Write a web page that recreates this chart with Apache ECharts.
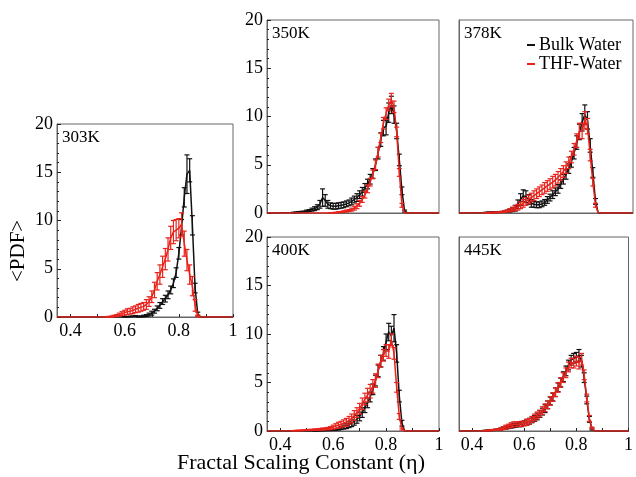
<!DOCTYPE html>
<html>
<head>
<meta charset="utf-8">
<script src="https://cdn.jsdelivr.net/npm/echarts@6/dist/echarts.min.js"></script>
<style>
  html, body { margin: 0; padding: 0; background: #fff; }
  #chart { width: 636px; height: 477px; }
</style>
</head>
<body>
<div id="chart"></div>
<script>
// fractal scaling constant bins (eta)
const eta = [0.35,
  0.45, 0.46, 0.47, 0.48, 0.49, 0.50, 0.51, 0.52, 0.53, 0.54,
  0.55, 0.56, 0.57, 0.58, 0.59, 0.60, 0.61, 0.62, 0.63, 0.64,
  0.65, 0.66, 0.67, 0.68, 0.69, 0.70, 0.71, 0.72, 0.73, 0.74,
  0.75, 0.76, 0.77, 0.78, 0.79, 0.80, 0.81, 0.82, 0.83, 0.84,
  0.85, 0.86, 0.87, 0.88,
  1.0];

const temps = ['303K', '350K', '378K', '400K', '445K'];
const seriesNames = ['Bulk Water', 'THF-Water'];
const xTickLabels = [0.4, 0.6, 0.8, 1];
const xTicks = [0.4, 0.5, 0.6, 0.7, 0.8, 0.9, 1];

// 303K
const bulk303 = [0,
  0, 0, 0, 0, 0, 0, 0, 0, 0, 0,
  0, 0, 0, 0, 0, 0.02, 0.03, 0.05, 0.07, 0.1,
  0.04, 0.06, 0.1, 0.15, 0.25, 0.4, 0.6, 0.9, 1.2, 1.6,
  1.9, 2.3, 2.8, 3.5, 4.6, 6.6, 9.3, 12.4, 14.8, 15.2,
  9.5, 3.0, 0.3, 0,
  0];
const bulk303Err = [0,
  0, 0, 0, 0, 0, 0, 0, 0, 0, 0,
  0, 0, 0, 0, 0, 0.02, 0.02, 0.03, 0.03, 0.05,
  0.05, 0.05, 0.08, 0.1, 0.15, 0.2, 0.2, 0.25, 0.3, 0.3,
  0.35, 0.4, 0.4, 0.45, 0.5, 0.6, 0.8, 1.0, 2.0, 1.2,
  1.0, 0.5, 0.2, 0,
  0];
const thf303 = [0,
  0, 0, 0, 0, 0, 0, 0, 0, 0.02, 0.03,
  0.05, 0.1, 0.15, 0.25, 0.35, 0.45, 0.55, 0.6, 0.7, 0.8,
  0.9, 1.0, 1.1, 1.3, 1.6, 2.1, 2.8, 3.7, 4.4, 5.2,
  6.0, 7.0, 8.2, 8.8, 9.0, 9.2, 9.6, 7.6, 5.9, 4.4,
  3.2, 1.2, 0.1, 0,
  0];
const thf303Err = [0,
  0, 0, 0, 0, 0, 0, 0, 0, 0.02, 0.03,
  0.05, 0.08, 0.1, 0.15, 0.2, 0.25, 0.3, 0.3, 0.35, 0.35,
  0.4, 0.4, 0.4, 0.5, 0.5, 0.6, 0.8, 0.9, 1.0, 1.1,
  1.1, 1.2, 1.2, 1.2, 1.1, 1.0, 1.2, 1.3, 1.1, 1.0,
  1.0, 0.6, 0.1, 0,
  0];

// 350K
const bulk350 = [0,
  0.05, 0.07, 0.1, 0.12, 0.15, 0.2, 0.25, 0.35, 0.45, 0.6,
  0.9, 1.6, 1.3, 0.9, 0.75, 0.7, 0.7, 0.75, 0.8, 0.85,
  0.95, 1.05, 1.2, 1.4, 1.6, 1.9, 2.2, 2.6, 3.0, 3.5,
  4.1, 5.0, 6.2, 7.6, 8.8, 9.0, 10.4, 11.2, 10.2, 8.5,
  5.5, 2.3, 0.2, 0,
  0];
const bulk350Err = [0,
  0.03, 0.03, 0.05, 0.05, 0.05, 0.1, 0.1, 0.15, 0.2, 0.25,
  0.4, 0.9, 0.6, 0.4, 0.3, 0.3, 0.3, 0.3, 0.3, 0.3,
  0.3, 0.3, 0.35, 0.35, 0.4, 0.4, 0.45, 0.45, 0.5, 0.5,
  0.5, 0.6, 0.6, 0.7, 0.8, 0.9, 1.0, 0.9, 0.9, 0.8,
  0.6, 0.4, 0.1, 0,
  0];
const thf350 = [0,
  0, 0, 0, 0, 0, 0, 0, 0, 0, 0,
  0, 0, 0, 0, 0.02, 0.03, 0.05, 0.08, 0.1, 0.15,
  0.2, 0.25, 0.35, 0.5, 0.7, 1.0, 1.4, 1.9, 2.5, 3.2,
  4.0, 5.0, 6.3, 7.8, 9.3, 10.3, 11.2, 11.7, 11.0, 8.4,
  4.2, 0.8, 0, 0,
  0];
const thf350Err = [0,
  0, 0, 0, 0, 0, 0, 0, 0, 0, 0,
  0, 0, 0, 0, 0.02, 0.02, 0.03, 0.04, 0.05, 0.08,
  0.1, 0.1, 0.15, 0.2, 0.25, 0.3, 0.3, 0.35, 0.4, 0.4,
  0.45, 0.5, 0.5, 0.5, 0.6, 0.6, 0.6, 0.7, 0.6, 0.5,
  0.4, 0.2, 0, 0,
  0];

// 378K
const bulk378 = [0,
  0.05, 0.06, 0.07, 0.08, 0.09, 0.1, 0.12, 0.15, 0.2, 0.25,
  0.35, 0.5, 0.9, 1.4, 1.8, 1.7, 1.4, 1.0, 0.9, 0.85,
  0.85, 0.95, 1.1, 1.35, 1.6, 1.9, 2.2, 2.5, 3.0, 3.5,
  4.0, 4.6, 5.3, 6.2, 7.3, 8.4, 9.4, 10.2, 9.6, 7.0,
  4.2, 1.2, 0, 0,
  0];
const bulk378Err = [0,
  0.03, 0.03, 0.03, 0.04, 0.04, 0.05, 0.05, 0.08, 0.1, 0.15,
  0.2, 0.3, 0.45, 0.6, 0.6, 0.6, 0.5, 0.4, 0.3, 0.3,
  0.3, 0.3, 0.3, 0.35, 0.35, 0.4, 0.4, 0.45, 0.45, 0.5,
  0.5, 0.5, 0.55, 0.6, 0.7, 0.8, 0.9, 1.0, 0.9, 0.7,
  0.5, 0.3, 0, 0,
  0];
const thf378 = [0,
  0.02, 0.03, 0.04, 0.05, 0.06, 0.08, 0.1, 0.15, 0.2, 0.3,
  0.4, 0.5, 0.6, 0.8, 1.0, 1.2, 1.4, 1.6, 1.8, 2.0,
  2.2, 2.4, 2.6, 2.8, 3.0, 3.2, 3.4, 3.7, 4.0, 4.3,
  4.7, 5.2, 5.8, 6.6, 7.5, 8.5, 8.5, 9.6, 9.0, 6.0,
  3.2, 0.8, 0, 0,
  0];
const thf378Err = [0,
  0.01, 0.02, 0.02, 0.03, 0.03, 0.04, 0.05, 0.08, 0.1, 0.15,
  0.2, 0.25, 0.3, 0.35, 0.4, 0.4, 0.45, 0.45, 0.5, 0.5,
  0.5, 0.5, 0.55, 0.55, 0.55, 0.6, 0.6, 0.6, 0.6, 0.6,
  0.6, 0.6, 0.6, 0.6, 0.7, 0.8, 0.8, 0.9, 0.8, 0.6,
  0.4, 0.2, 0, 0,
  0];

// 400K
const bulk400 = [0,
  0, 0, 0, 0, 0, 0, 0, 0, 0.02, 0.03,
  0.05, 0.06, 0.07, 0.08, 0.1, 0.12, 0.15, 0.2, 0.3, 0.4,
  0.5, 0.65, 0.8, 1.0, 1.2, 1.5, 1.9, 2.4, 2.9, 3.5,
  4.3, 5.2, 6.2, 7.2, 8.0, 9.2, 10.2, 9.8, 10.6, 8.0,
  3.6, 0.8, 0, 0,
  0];
const bulk400Err = [0,
  0, 0, 0, 0, 0, 0, 0, 0, 0.01, 0.02,
  0.03, 0.03, 0.04, 0.04, 0.05, 0.06, 0.08, 0.1, 0.15, 0.2,
  0.25, 0.3, 0.35, 0.4, 0.4, 0.45, 0.5, 0.5, 0.5, 0.5,
  0.55, 0.55, 0.6, 0.6, 0.7, 0.8, 0.9, 1.0, 1.4, 0.9,
  0.6, 0.3, 0, 0,
  0];
const thf400 = [0,
  0.03, 0.04, 0.05, 0.06, 0.08, 0.1, 0.11, 0.12, 0.14, 0.15,
  0.17, 0.2, 0.22, 0.25, 0.3, 0.4, 0.5, 0.6, 0.7, 0.8,
  0.9, 1.1, 1.3, 1.6, 1.9, 2.3, 2.8, 3.3, 3.7, 4.1,
  4.6, 5.2, 6.2, 7.2, 7.8, 8.3, 8.2, 9.4, 8.0, 4.5,
  1.5, 0.2, 0, 0,
  0];
const thf400Err = [0,
  0.02, 0.02, 0.03, 0.03, 0.04, 0.05, 0.05, 0.06, 0.07, 0.08,
  0.09, 0.1, 0.1, 0.12, 0.15, 0.2, 0.25, 0.3, 0.3, 0.35,
  0.4, 0.4, 0.45, 0.5, 0.5, 0.55, 0.6, 0.6, 0.7, 0.7,
  0.7, 0.7, 0.7, 0.6, 0.6, 0.6, 0.7, 0.6, 0.6, 0.5,
  0.3, 0.1, 0, 0,
  0];

// 445K
const bulk445 = [0,
  0.05, 0.06, 0.08, 0.1, 0.12, 0.16, 0.2, 0.3, 0.35, 0.4,
  0.5, 0.55, 0.6, 0.65, 0.7, 0.8, 0.9, 1.0, 1.15, 1.3,
  1.5, 1.75, 2.0, 2.3, 2.7, 3.1, 3.5, 4.0, 4.5, 5.0,
  5.6, 6.2, 6.8, 7.3, 7.5, 7.6, 7.8, 7.2, 5.5, 3.2,
  1.2, 0.2, 0, 0,
  0];
const bulk445Err = [0,
  0.03, 0.03, 0.04, 0.05, 0.06, 0.08, 0.1, 0.12, 0.15, 0.15,
  0.2, 0.2, 0.2, 0.2, 0.25, 0.25, 0.3, 0.3, 0.3, 0.3,
  0.35, 0.35, 0.35, 0.4, 0.4, 0.4, 0.4, 0.45, 0.45, 0.45,
  0.5, 0.5, 0.5, 0.5, 0.5, 0.5, 0.6, 0.6, 0.5, 0.4,
  0.3, 0.1, 0, 0,
  0];
const thf445 = [0,
  0.03, 0.05, 0.07, 0.1, 0.12, 0.15, 0.2, 0.3, 0.4, 0.5,
  0.6, 0.7, 0.7, 0.7, 0.75, 0.8, 0.9, 1.0, 1.2, 1.4,
  1.6, 1.8, 2.1, 2.4, 2.7, 3.1, 3.5, 4.0, 4.5, 5.0,
  5.5, 6.0, 6.6, 7.0, 7.0, 7.2, 7.0, 7.4, 5.8, 3.4,
  1.3, 0.3, 0, 0,
  0];
const thf445Err = [0,
  0.02, 0.03, 0.04, 0.05, 0.06, 0.08, 0.1, 0.15, 0.2, 0.2,
  0.25, 0.25, 0.25, 0.25, 0.25, 0.25, 0.3, 0.3, 0.3, 0.35,
  0.35, 0.35, 0.4, 0.4, 0.4, 0.45, 0.45, 0.45, 0.5, 0.5,
  0.5, 0.5, 0.5, 0.5, 0.5, 0.5, 0.6, 0.6, 0.5, 0.4,
  0.3, 0.1, 0, 0,
  0];

const bulkData = [bulk303, bulk350, bulk378, bulk400, bulk445];
const bulkErr = [bulk303Err, bulk350Err, bulk378Err, bulk400Err, bulk445Err];
const thfData = [thf303, thf350, thf378, thf400, thf445];
const thfErr = [thf303Err, thf350Err, thf378Err, thf400Err, thf445Err];

// layout: one box per temperature
const boxes = [
    {left: 57, top: 124, width: 176, height: 193, xLabels: true, yLabels: true},
    {left: 267, top: 20, width: 172, height: 193, xLabels: false, yLabels: true},
    {left: 459, top: 20, width: 174, height: 193, xLabels: false, yLabels: false},
    {left: 267, top: 237, width: 172, height: 194, xLabels: true, yLabels: true},
    {left: 459, top: 237, width: 174, height: 194, xLabels: true, yLabels: false}
];

const FONT = 'Liberation Serif';
const BLACK = '#111111';
const RED = '#e8231c';

function errorBars(idx, vals, errs, color, name) {
    return {
        type: 'custom',
        name: name,
        xAxisIndex: idx,
        yAxisIndex: idx,
        silent: true,
        z: color === RED ? 4 : 3,
        data: eta.map((x, j) => [x, vals[j], errs[j]]),
        renderItem: function (params, api) {
            const e = api.value(2);
            if (!e) return null;
            const x = api.value(0), y = api.value(1);
            const lo = api.coord([x, y - e]);
            const hi = api.coord([x, y + e]);
            const cap = 2.5;
            const style = {stroke: color, lineWidth: 1.2};
            return {
                type: 'group',
                children: [
                    {type: 'line', shape: {x1: lo[0], y1: lo[1], x2: hi[0], y2: hi[1]}, style: style},
                    {type: 'line', shape: {x1: lo[0] - cap, y1: lo[1], x2: lo[0] + cap, y2: lo[1]}, style: style},
                    {type: 'line', shape: {x1: hi[0] - cap, y1: hi[1], x2: hi[0] + cap, y2: hi[1]}, style: style}
                ]
            };
        }
    };
}

function lineSeries(idx, vals, color, name) {
    return {
        type: 'line',
        name: name,
        xAxisIndex: idx,
        yAxisIndex: idx,
        showSymbol: false,
        symbol: 'rect',
        color: color,
        z: color === RED ? 4 : 3,
        lineStyle: {color: color, width: 1.5},
        data: eta.map((x, j) => [x, vals[j]])
    };
}

const grid = [], xAxis = [], yAxis = [], series = [], graphic = [];

boxes.forEach((b, i) => {
    grid.push({
        left: b.left, top: b.top, width: b.width, height: b.height,
        show: true, borderColor: '#666', borderWidth: 1, backgroundColor: 'transparent'
    });
    xAxis.push({
        type: 'value', gridIndex: i, min: 0.35, max: 1,
        axisLine: {show: true, onZero: false, lineStyle: {color: '#666'}},
        axisTick: {show: b.xLabels, inside: true, length: 3, customValues: xTicks, lineStyle: {color: '#222'}},
        axisLabel: {
            show: b.xLabels, customValues: xTickLabels, margin: 5,
            fontFamily: FONT, fontSize: 18, color: '#000',
            formatter: v => (v === 1 ? '1' : v.toFixed(1))
        },
        splitLine: {show: false}
    });
    yAxis.push({
        type: 'value', gridIndex: i, min: 0, max: 20, interval: 5,
        axisLine: {show: true, lineStyle: {color: '#666'}},
        axisTick: {show: b.yLabels, inside: true, length: 4, lineStyle: {color: '#222'}},
        minorTick: {show: b.yLabels, splitNumber: 5, length: 2, lineStyle: {color: '#222'}},
        axisLabel: {show: b.yLabels, margin: 4, fontFamily: FONT, fontSize: 18, color: '#000'},
        splitLine: {show: false}
    });
    series.push(lineSeries(i, bulkData[i], BLACK, seriesNames[0]));
    series.push(errorBars(i, bulkData[i], bulkErr[i], BLACK, seriesNames[0]));
    series.push(lineSeries(i, thfData[i], RED, seriesNames[1]));
    series.push(errorBars(i, thfData[i], thfErr[i], RED, seriesNames[1]));
    graphic.push({
        type: 'text', left: b.left + 5, top: b.top + 5,
        style: {text: temps[i], fontFamily: FONT, fontSize: 17, fill: '#000'}
    });
});

graphic.push({
    type: 'text', left: 177, top: 452,
    style: {text: 'Fractal Scaling Constant (η)', fontFamily: FONT, fontSize: 22, fill: '#000'}
});
graphic.push({
    type: 'text', x: 8, y: 282, rotation: Math.PI / 2,
    style: {text: '<PDF>', fontFamily: FONT, fontSize: 21, fill: '#000'}
});

const option = {
    animation: false,
    backgroundColor: '#fff',
    legend: {
        data: seriesNames,
        orient: 'vertical',
        left: 522, top: 31,
        icon: 'rect',
        itemWidth: 8, itemHeight: 2, itemGap: 1,
        textStyle: {fontFamily: FONT, fontSize: 18, color: '#000', padding: [0, 0, 0, -1]}
    },
    grid: grid,
    xAxis: xAxis,
    yAxis: yAxis,
    series: series,
    graphic: graphic
};

const myChart = echarts.init(document.getElementById('chart'));
myChart.setOption(option);
</script>
</body>
</html>
